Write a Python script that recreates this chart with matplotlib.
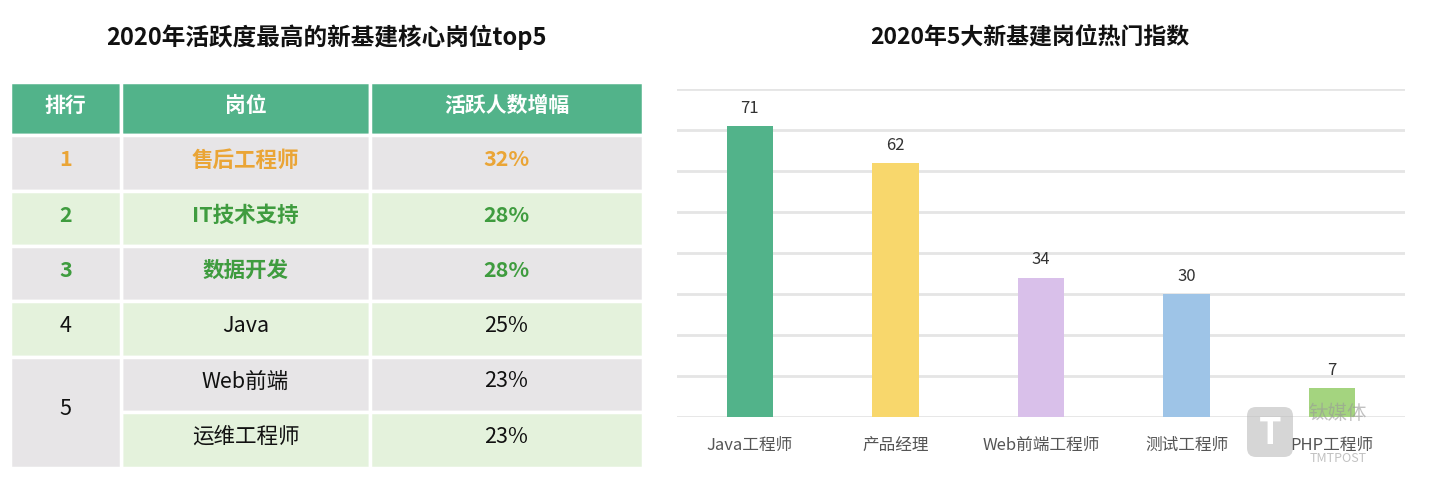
import matplotlib.pyplot as plt
from matplotlib.patches import Rectangle, FancyBboxPatch

plt.rcParams['font.family'] = ['Noto Sans CJK SC', 'DejaVu Sans']

# 左表数据
table_header = ["排行", "岗位", "活跃人数增幅"]
ranks = ["1", "2", "3", "4", "5", ""]
jobs = ["售后工程师", "IT技术支持", "数据开发", "Java", "Web前端", "运维工程师"]
growth = ["32%", "28%", "28%", "25%", "23%", "23%"]

# 右图数据
categories = ["Java工程师", "产品经理", "Web前端工程师", "测试工程师", "PHP工程师"]
index_values = [71, 62, 34, 30, 7]
bar_colors = ["#52B38A", "#F8D76C", "#D9C0EA", "#9EC4E7", "#A4D47F"]

W, H = 1438, 485
fig = plt.figure(figsize=(W / 100, H / 100), dpi=100)
fig.patch.set_facecolor("white")

# 整张图的像素坐标层, 用来画表格
bg = fig.add_axes([0, 0, 1, 1])
bg.set_xlim(0, W)
bg.set_ylim(H, 0)
bg.axis("off")

bg.text(326, 37, "2020年活跃度最高的新基建核心岗位top5", ha="center", va="center",
        fontsize=17, fontweight="heavy", color="#111111")
bg.text(1030, 37, "2020年5大新基建岗位热门指数", ha="center", va="center",
        fontsize=16.5, fontweight="heavy", color="#111111")

col_x = [10, 121, 370, 643]
row_y = [83, 136, 192, 247, 302, 358, 413, 469]
gray = "#E7E5E7"
light_green = "#E4F2DC"
header_green = "#52B38A"
dy = -4  # 文字略高于单元格中心

# 表头
for c in range(3):
    bg.add_patch(Rectangle((col_x[c], row_y[0]), col_x[c + 1] - col_x[c], row_y[1] - row_y[0],
                           facecolor=header_green, edgecolor="white", lw=2.5))
    bg.text((col_x[c] + col_x[c + 1]) / 2, (row_y[0] + row_y[1]) / 2 + dy, table_header[c],
            ha="center", va="center", fontsize=15, fontweight="bold", color="white")

text_colors = ["#EAA536", "#3F9C3F", "#3F9C3F", "#111111", "#111111", "#111111"]
weights = ["heavy", "heavy", "heavy", "normal", "normal", "normal"]

for r in range(len(jobs)):
    y0, y1 = row_y[r + 1], row_y[r + 2]
    fc = gray if r % 2 == 0 else light_green
    for c in (1, 2):
        bg.add_patch(Rectangle((col_x[c], y0), col_x[c + 1] - col_x[c], y1 - y0,
                               facecolor=fc, edgecolor="white", lw=2.5))
    yc = (y0 + y1) / 2 + dy
    bg.text((col_x[1] + col_x[2]) / 2, yc, jobs[r], ha="center", va="center",
            fontsize=15.5, fontweight=weights[r], color=text_colors[r])
    bg.text((col_x[2] + col_x[3]) / 2, yc, growth[r], ha="center", va="center",
            fontsize=15.5, fontweight=weights[r], color=text_colors[r])
    if r < 4:
        bg.add_patch(Rectangle((col_x[0], y0), col_x[1] - col_x[0], y1 - y0,
                               facecolor=fc, edgecolor="white", lw=2.5))
        bg.text((col_x[0] + col_x[1]) / 2, yc, ranks[r], ha="center", va="center",
                fontsize=15.5, fontweight=weights[r], color=text_colors[r])

# 第5名合并单元格
bg.add_patch(Rectangle((col_x[0], row_y[5]), col_x[1] - col_x[0], row_y[7] - row_y[5],
                       facecolor=gray, edgecolor="white", lw=2.5))
bg.text((col_x[0] + col_x[1]) / 2, (row_y[5] + row_y[7]) / 2 + dy, ranks[4],
        ha="center", va="center", fontsize=15.5, color="#111111")

# 右侧柱状图
ax = fig.add_axes([677 / W, (H - 418) / H, 728 / W, 328 / H])
ax.set_xlim(-0.5, len(categories) - 0.5)
ax.set_ylim(0, 80)
ax.set_yticks(range(0, 81, 10))
ax.yaxis.grid(True, color="#E5E5E5", lw=2)
ax.set_axisbelow(True)
for s in ax.spines.values():
    s.set_visible(False)
ax.tick_params(axis="y", left=False, labelleft=False)
ax.tick_params(axis="x", bottom=False, labelsize=12, labelcolor="#555555", pad=10)

bars = ax.bar(range(len(categories)), index_values, width=0.32, color=bar_colors)
ax.set_xticks(range(len(categories)))
ax.set_xticklabels(categories)
for b, v in zip(bars, index_values):
    ax.text(b.get_x() + b.get_width() / 2, v + 2.5, str(v), ha="center", va="bottom",
            fontsize=12, color="#333333")

# 水印 (放在最上层)
wm = fig.add_axes([0, 0, 1, 1])
wm.set_xlim(0, W)
wm.set_ylim(H, 0)
wm.axis("off")
wm.patch.set_alpha(0)
wm.add_patch(FancyBboxPatch((1247, 408), 46, 50, boxstyle="round,pad=0,rounding_size=9",
                            facecolor="#BBBBBB", edgecolor="none", alpha=0.6))
wm.text(1270, 434, "T", ha="center", va="center", fontsize=26, fontweight="bold", color="white")
wm.text(1338, 414, "钛媒体", ha="center", va="center", fontsize=14, color="#999999", alpha=0.6)
wm.text(1338, 459, "TMTPOST", ha="center", va="center", fontsize=9, color="#999999", alpha=0.6)

fig.savefig("out.png", dpi=100)
